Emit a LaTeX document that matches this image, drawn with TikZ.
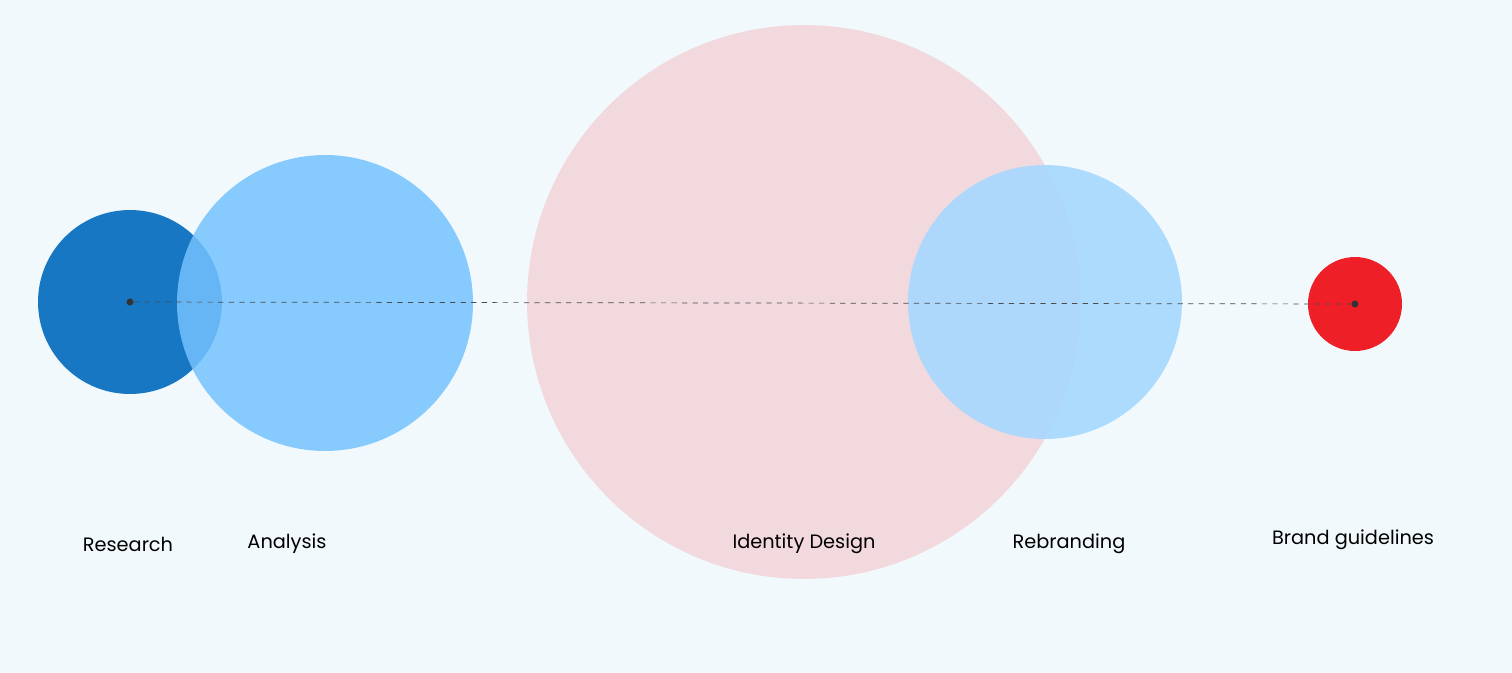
\documentclass[tikz,border=0pt]{standalone}
\usepackage{fontspec}
\setmainfont{Poppins}
\usetikzlibrary{positioning}
\definecolor{bgcol}{HTML}{F2F9FC}
\definecolor{darkblue}{HTML}{1877C2}
\definecolor{midblue}{HTML}{74C2FF}
\definecolor{paleblue}{HTML}{A6D8FF}
\definecolor{pink}{HTML}{F2D9DE}
\definecolor{brandred}{HTML}{EE1F27}
\tikzset{
  phase/.style={circle, inner sep=0pt, draw=none},
  label text/.style={font=\fontsize{11}{13}\selectfont, text=black},
  dot/.style={circle, fill=black!80, inner sep=0pt, minimum size=4pt}
}
\begin{document}
\begin{tikzpicture}[x=0.02cm, y=-0.02cm]
    \fill[bgcol] (0,0) rectangle (1512,673);
    \useasboundingbox (0,0) rectangle (1512,673);

    % circles
    \node[phase, fill=darkblue, minimum size=3.68cm] (research) at (130,302) {};
    \node[phase, fill=midblue, fill opacity=0.85, minimum size=5.92cm] (analysis) at (325,303) {};
    \node[phase, fill=pink, minimum size=11.08cm] (identity) at (804,302) {};
    \node[phase, fill=paleblue, fill opacity=0.9, minimum size=5.48cm] (rebrand) at (1045,302) {};
    \node[phase, fill=brandred, minimum size=1.88cm] (guide) at (1355,304) {};

    % timeline
    \node[dot] (start) at (research.center) {};
    \node[dot] (end) at (guide.center) {};
    \draw[dashed, black!70, thin] (start) -- (end);

    % labels
    \node[label text] (lres) at (128,544) {Research};
    \node[label text] (lana) at (287,544) {Analysis};
    \node[label text] (lid) at (804,544) {Identity Design};
    \node[label text] (lreb) at (1069,544) {Rebranding};
    \node[label text] (lgui) at (1353,540) {Brand guidelines};
\end{tikzpicture}
\end{document}
